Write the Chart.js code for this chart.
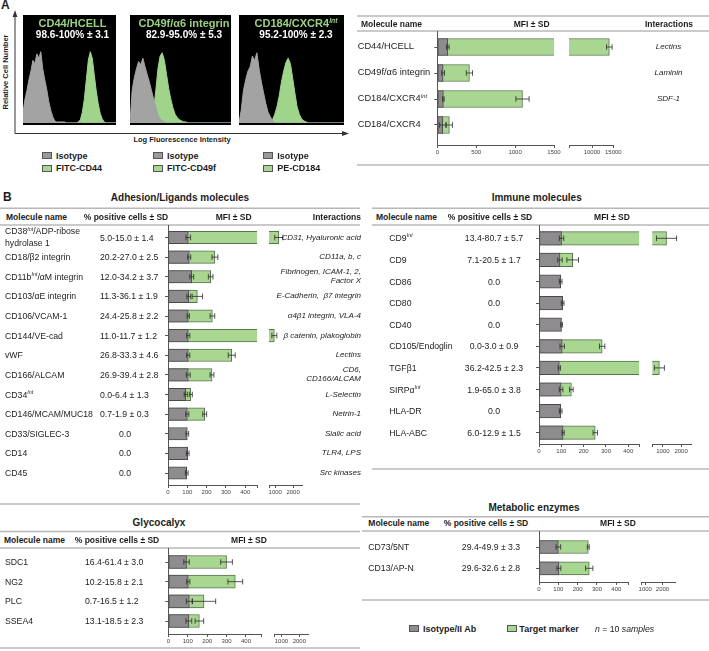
<!DOCTYPE html>
<html>
<head>
<meta charset="utf-8">
<title>MSC surface markers</title>
<script src="https://cdn.jsdelivr.net/npm/chart.js@4.4.1/dist/chart.umd.min.js"></script>
<style>
    body { margin: 0; background: #fff; }
    #fig { position: relative; width: 709px; height: 651px; overflow: hidden;
           font-family: "Liberation Sans", Arial, sans-serif; color: #1c1c1c; }
    #fig canvas, #fig svg { position: absolute; left: 0; top: 0; }
    .t { position: absolute; white-space: nowrap; line-height: 1.15; z-index: 3; }
    .t sup { font-size: 0.62em; font-style: italic; vertical-align: 0.6em; line-height: 0; }
    .panel { font-weight: bold; font-size: 12px; }
    .title { font-weight: bold; font-size: 10px; }
    .head { font-weight: bold; font-size: 8.5px; }
    .row { font-size: 8.7px; line-height: 1.45; }
    .rowA { font-size: 9.3px; }
    .inter { font-style: italic; font-size: 8px; line-height: 1.1; }
    .histTitle { font-weight: bold; font-size: 11px; color: #9ad082; }
    .histSub { font-weight: bold; font-size: 10px; color: #fff; }
    .axisTitle { font-weight: bold; font-size: 7.5px; }
    .legend { font-weight: bold; font-size: 9px; }
    .swatch { position: absolute; border: 1px solid #555; box-sizing: border-box; z-index: 3; }
</style>
</head>
<body>
<div id="fig"></div>
<script>
// ---- Panel A: histograms (relative cell number per log-intensity bin)
const histIsoCD44 = [10, 22, 30, 40, 48, 58, 55, 64, 60, 66, 50, 40, 31, 20, 12, 6, 2, 1, 1, 1,
                     1, 1, 0, 0, 0, 0, 0, 0, 0, 1, 0, 0, 0, 0, 0, 0, 0, 0, 0, 0, 0, 0, 0, 0, 0, 0, 0, 0];
const histCD44 = [0, 0, 0, 0, 0, 0, 0, 0, 0, 0, 0, 0, 0, 0, 0, 0, 0, 0, 0, 0,
                  0, 0, 0, 0, 0, 0, 0, 0, 1, 3, 10, 22, 40, 58, 66, 60, 45, 30, 18, 9, 4, 1, 0, 0, 0, 0, 0, 0];
const histIsoCD49f = [0, 30, 42, 50, 57, 54, 60, 52, 45, 38, 30, 22, 15, 8, 4, 2, 1, 0, 0, 0,
                      0, 0, 0, 0, 0, 0, 0, 0, 0, 0, 0, 0, 0, 0, 0, 0, 0, 0, 0, 0, 0, 0, 0, 0, 0, 0, 0, 0];
const histCD49f = [0, 0, 0, 0, 0, 0, 0, 0, 0, 0, 5, 12, 30, 50, 62, 65, 58, 45, 32, 22,
                   14, 8, 5, 3, 2, 1, 1, 0, 0, 0, 0, 0, 0, 0, 0, 0, 0, 0, 0, 0, 0, 0, 0, 0, 0, 0, 0, 0];
const histIsoCD184 = [0, 12, 30, 40, 48, 52, 62, 58, 65, 50, 38, 28, 18, 10, 6, 2, 0, 0, 0, 0,
                      0, 0, 0, 0, 0, 0, 0, 0, 0, 0, 0, 0, 0, 0, 0, 0, 0, 0, 0, 0, 0, 0, 0, 0, 0, 0, 0, 0];
const histCD184 = [0, 0, 0, 0, 0, 0, 0, 0, 0, 0, 0, 0, 0, 0, 0, 3, 8, 15, 25, 38,
                   48, 56, 60, 55, 42, 28, 15, 8, 4, 2, 1, 0, 0, 0, 0, 0, 0, 0, 0, 0, 0, 0, 0, 0, 0, 0, 0, 0];
const histBins = histCD44.map((_, i) => i);
const histTitles = ['CD44/HCELL', 'CD49f/α6 integrin', 'CD184/CXCR4<sup>Int</sup>'];
const histPositive = ['98.6-100% ± 3.1', '82.9-95.0% ± 5.3', '95.2-100% ± 2.3'];
const histMarkers = ['FITC-CD44', 'FITC-CD49f', 'PE-CD184'];

// ---- Panel A: MFI table
const aMolecules = ['CD44/HCELL', 'CD49f/α6 integrin', 'CD184/CXCR4<sup>Int</sup>', 'CD184/CXCR4'];
const aInteractions = ['Lectins', 'Laminin', 'SDF-1', ''];
const aIsotype = [135, 75, 78, 70];
const aIsotypeSd = [17, 18, 10, 40];
const aTarget = [14070, 413, 1095, 155];
const aTargetSd = [650, 40, 85, 40];
const aTicks = [0, 500, 1000, 1500];
const aBreakTicks = [10000, 15000];

// ---- Panel B: shared MFI ticks
const mfiTicks = [0, 100, 200, 300, 400];
const mfiBreakTicks = [1000, 2000];

// Adhesion / ligands
const adhMolecules = ['CD38<sup>Int</sup>/ADP-ribose<br>hydrolase 1', 'CD18/β2 integrin', 'CD11b<sup>Int</sup>/αM integrin',
    'CD103/αE integrin', 'CD106/VCAM-1', 'CD144/VE-cad', 'vWF', 'CD166/ALCAM', 'CD34<sup>Int</sup>',
    'CD146/MCAM/MUC18', 'CD33/SIGLEC-3', 'CD14', 'CD45'];
const adhPositive = ['5.0-15.0 ± 1.4', '20.2-27.0 ± 2.5', '12.0-34.2 ± 3.7', '11.3-36.1 ± 1.9', '24.4-25.8 ± 2.2',
    '11.0-11.7 ± 1.2', '26.8-33.3 ± 4.6', '26.9-39.4 ± 2.8', '0.0-6.4 ± 1.3', '0.7-1.9 ± 0.3', '0.0', '0.0', '0.0'];
const adhInteractions = ['CD31, Hyaluronic acid', 'CD11a, b, c', 'Fibrinogen, ICAM-1, 2,<br>Factor X',
    'E-Cadherin,&nbsp; β7 integrin', 'α4β1 integrin, VLA-4', 'β catenin, plakoglobin', 'Lectins',
    'CD6,<br>CD166/ALCAM', 'L-Selectin', 'Netrin-1', 'Sialic acid', 'TLR4, LPS', 'Src kinases'];
const adhIsotype = [105, 110, 123, 108, 105, 105, 105, 105, 92, 100, 100, 102, 97];
const adhIsotypeSd = [12, 8, 10, 10, 6, 8, 8, 10, 8, 8, 7, 7, 7];
const adhTarget = [1200, 243, 221, 152, 230, 950, 330, 228, 118, 190, null, null, null];
const adhTargetSd = [230, 15, 12, 27, 12, 140, 18, 10, 8, 10, null, null, null];

// Glycocalyx
const glyMolecules = ['SDC1', 'NG2', 'PLC', 'SSEA4'];
const glyPositive = ['16.4-61.4 ± 3.0', '10.2-15.8 ± 2.1', '0.7-16.5 ± 1.2', '13.1-18.5 ± 2.3'];
const glyIsotype = [94, 103, 108, 106];
const glyIsotypeSd = [14, 8, 15, 15];
const glyTarget = [300, 345, 184, 160];
const glyTargetSd = [30, 38, 60, 22];

// Immune molecules
const immMolecules = ['CD9<sup>Int</sup>', 'CD9', 'CD86', 'CD80', 'CD40', 'CD105/Endoglin', 'TGFβ1',
    'SIRPα<sup>Int</sup>', 'HLA-DR', 'HLA-ABC'];
const immPositive = ['13.4-80.7 ± 5.7', '7.1-20.5 ± 1.7', '0.0', '0.0', '0.0', '0.0-3.0 ± 0.9',
    '36.2-42.5 ± 2.3', '1.9-65.0 ± 3.8', '0.0', '6.0-12.9 ± 1.5'];
const immIsotype = [101, 94, 97, 106, 101, 104, 91, 99, 97, 108];
const immIsotypeSd = [10, 10, 6, 6, 4, 10, 5, 8, 6, 5];
const immTarget = [1200, 151, null, null, null, 283, 808, 145, null, 252];
const immTargetSd = [550, 26, null, null, null, 12, 275, 8, null, 10];

// Metabolic enzymes
const metMolecules = ['CD73/5NT', 'CD13/AP-N'];
const metPositive = ['29.4-49.9 ± 3.3', '29.6-32.6 ± 2.8'];
const metIsotype = [100, 103];
const metIsotypeSd = [12, 10];
const metTarget = [255, 260];
const metTargetSd = [5, 19];

// ---- styles
const GRAY = '#8e8c8e', GRAY_EDGE = '#4a4a4a';
const GREEN = '#a9d791', GREEN_EDGE = '#58734f';
const AXIS = '#555';
const RULE = '#b8b8b8';

Chart.defaults.font.family = '"Liberation Sans", Arial, sans-serif';
Chart.defaults.animation = false;
Chart.defaults.events = [];
Chart.defaults.plugins.legend.display = false;
Chart.defaults.plugins.tooltip.enabled = false;

const fig = document.getElementById('fig');

function label(x, y, html, cls, align) {
    const d = document.createElement('div');
    d.className = 't ' + cls;
    d.innerHTML = html;
    d.style.left = x + 'px';
    d.style.top = y + 'px';
    const tx = align === 'c' ? '-50%' : align === 'r' ? '-100%' : '0';
    d.style.transform = 'translate(' + tx + ', -50%)';
    if (align === 'c') d.style.textAlign = 'center';
    if (align === 'r') d.style.textAlign = 'right';
    fig.appendChild(d);
}

function swatch(x, y, color) {
    const s = document.createElement('div');
    s.className = 'swatch';
    s.style.cssText = 'left:' + x + 'px;top:' + y + 'px;width:10px;height:7px;background:' + color;
    fig.appendChild(s);
}

function addCanvas(x, y, w, h) {
    const c = document.createElement('canvas');
    c.width = w;
    c.height = h;
    c.style.left = x + 'px';
    c.style.top = y + 'px';
    c.style.width = w + 'px';
    c.style.height = h + 'px';
    fig.appendChild(c);
    return c;
}

// horizontal error bars drawn with the chart's own scales
const errorBars = {
    id: 'errorBars',
    afterDatasetsDraw(chart) {
        const { ctx, scales: { x, y } } = chart;
        ctx.save();
        ctx.strokeStyle = '#2b2b2b';
        ctx.lineWidth = 0.8;
        chart.data.datasets.forEach(ds => {
            ds.data.forEach((pt, i) => {
                const sd = ds.sd[i];
                if (pt.x == null || !sd || pt.x < x.min || pt.x > x.max) return;
                const py = y.getPixelForValue(pt.y);
                const lo = Math.max(pt.x - sd, x.min);
                const xa = x.getPixelForValue(lo);
                const xb = x.getPixelForValue(pt.x + sd);
                ctx.beginPath();
                ctx.moveTo(xa, py);
                ctx.lineTo(xb, py);
                if (lo > x.min) {
                    ctx.moveTo(xa, py - 2.8);
                    ctx.lineTo(xa, py + 2.8);
                }
                ctx.moveTo(xb, py - 2.8);
                ctx.lineTo(xb, py + 2.8);
                ctx.stroke();
            });
        });
        ctx.restore();
    }
};

// one segment of a broken MFI axis
function mfiSegment(g, seg, iso, isoSd, tgt, tgtSd, tickVals, tickLabels, showY) {
    const n = iso.length;
    const left = Math.floor(seg.x0) - 10;
    const right = Math.ceil(seg.x1) + 10;
    const top = Math.floor(g.yT) - 4;
    const bottom = Math.ceil(g.yA) + 16;
    const canvas = addCanvas(left, top, right - left, bottom - top);
    const pitch = (g.yL - g.yF) / (n - 1);
    const barOpts = { borderWidth: 1, borderSkipped: false, barThickness: g.bar, grouped: false, clip: 0 };
    new Chart(canvas, {
        type: 'bar',
        data: {
            datasets: [
                Object.assign({ data: iso.map((v, i) => ({ x: v, y: i })), sd: isoSd,
                    backgroundColor: GRAY, borderColor: GRAY_EDGE }, barOpts),
                Object.assign({ data: tgt.map((v, i) => ({ x: v, y: i })), sd: tgtSd,
                    backgroundColor: GREEN, borderColor: GREEN_EDGE }, barOpts)
            ]
        },
        options: {
            indexAxis: 'y',
            responsive: false,
            layout: {
                padding: {
                    left: seg.x0 - left - (showY ? 4 : 0),
                    right: right - seg.x1,
                    top: g.yT - top,
                    bottom: bottom - g.yA - 14
                }
            },
            scales: {
                x: {
                    type: 'linear',
                    min: seg.min,
                    max: seg.max,
                    border: { color: AXIS, width: 1 },
                    grid: { drawOnChartArea: false, tickLength: 3, color: AXIS },
                    ticks: {
                        font: { size: 6 }, color: '#444', padding: 1, maxRotation: 0, autoSkip: false,
                        callback: v => tickLabels.includes(v) ? String(v) : ''
                    },
                    afterBuildTicks: s => { s.ticks = tickVals.map(v => ({ value: v })); },
                    afterFit: s => { s.height = 14; }
                },
                y: {
                    type: 'linear',
                    reverse: true,
                    offset: false,
                    display: showY,
                    min: -(g.yF - g.yT) / pitch,
                    max: (n - 1) + (g.yA - g.yL) / pitch,
                    border: { color: AXIS, width: 1 },
                    grid: { drawOnChartArea: false, tickLength: 3, color: AXIS, offset: false },
                    ticks: { display: false },
                    afterBuildTicks: s => { s.ticks = iso.map((_, i) => ({ value: i })); },
                    afterFit: s => { s.width = 4; }
                }
            }
        },
        plugins: [errorBars]
    });
}

function histogram(x0, x1, y0, y1, iso, tgt) {
    const canvas = addCanvas(Math.round(x0), Math.round(y0), Math.round(x1 - x0), Math.round(y1 - y0));
    canvas.style.background = '#000';
    new Chart(canvas, {
        type: 'line',
        data: {
            labels: histBins,
            datasets: [
                { data: iso, backgroundColor: '#a3a3a3', borderColor: '#a3a3a3' },
                { data: tgt, backgroundColor: '#9fd48a', borderColor: '#9fd48a' }
            ]
        },
        options: {
            responsive: false,
            layout: { padding: { bottom: 2 } },
            elements: { point: { radius: 0 }, line: { borderWidth: 1, fill: 'origin', tension: 0 } },
            scales: {
                x: { display: false },
                y: { display: false, min: 0, max: 100 }
            }
        }
    });
}

function rowY(g, n, i) {
    return g.yF + i * (g.yL - g.yF) / (n - 1);
}

// ---- rules and axis arrows
const rules = [
    [357, 709, 16], [357, 709, 31], [357, 709, 165],
    [0, 360, 208.3], [0, 360, 225], [0, 360, 504],
    [0, 360, 531.5], [0, 360, 548], [0, 360, 648],
    [372, 709, 208.3], [372, 709, 225], [372, 709, 469],
    [362, 709, 516.7], [362, 709, 531], [362, 709, 600]
];
let svg = '<svg width="709" height="651" xmlns="http://www.w3.org/2000/svg">';
rules.forEach(r => {
    svg += '<line x1="' + r[0] + '" x2="' + r[1] + '" y1="' + r[2] + '" y2="' + r[2] +
        '" stroke="' + RULE + '" stroke-width="1.4"/>';
});
svg += '<line x1="15" x2="15" y1="16" y2="133.5" stroke="#333" stroke-width="1"/>';
svg += '<line x1="15" x2="343" y1="133.5" y2="133.5" stroke="#333" stroke-width="1"/>';
svg += '<polygon points="15,10 12.6,17 17.4,17" fill="#333"/>';
svg += '<polygon points="349,133.5 342,131.1 342,135.9" fill="#333"/>';
svg += '</svg>';
fig.insertAdjacentHTML('beforeend', svg);

// ---- Panel A
label(1, 6, 'A', 'panel', 'l');
label(6, 72, 'Relative Cell Number', 'axisTitle', 'c');
fig.lastChild.style.transform = 'translate(-50%, -50%) rotate(-90deg)';
label(182, 140, 'Log Fluorescence Intensity', 'axisTitle', 'c');

const boxes = [[22.7, 116], [129.5, 230], [238.5, 343]];
const titleX = [72.5, 184, 296];
const histData = [[histIsoCD44, histCD44], [histIsoCD49f, histCD49f], [histIsoCD184, histCD184]];
boxes.forEach((b, k) => {
    histogram(b[0], b[1], 15, 125, histData[k][0], histData[k][1]);
    label(titleX[k], 23.3, histTitles[k], 'histTitle', 'c');
    label(titleX[k], 35, histPositive[k], 'histSub', 'c');
});
const legendX = [42, 153, 263.3];
legendX.forEach((x, k) => {
    swatch(x, 152, '#9a9a9a');
    label(x + 14, 155.5, 'Isotype', 'legend', 'l');
    swatch(x, 164.5, GREEN);
    label(x + 14, 168, histMarkers[k], 'legend', 'l');
});

const gA = { yT: 31, yF: 47, yL: 125, yA: 145, bar: 17 };
label(361, 24.5, 'Molecule name', 'head', 'l');
label(531.7, 24.5, 'MFI ± SD', 'head', 'c');
label(669, 24.5, 'Interactions', 'head', 'c');
aMolecules.forEach((m, i) => {
    const y = rowY(gA, aMolecules.length, i);
    label(357.7, y, m, 'row rowA', 'l');
    label(668.5, y, aInteractions[i], 'inter rowA', 'c');
});
mfiSegment(gA, { x0: 437.3, x1: 554, min: 0, max: 1500 }, aIsotype, aIsotypeSd, aTarget, aTargetSd,
    aTicks, aTicks, true);
mfiSegment(gA, { x0: 565, x1: 613.3, min: 4600, max: 15000 }, aIsotype, aIsotypeSd, aTarget, aTargetSd,
    [4600, ...aBreakTicks], aBreakTicks, false);

// ---- Panel B: adhesion / ligands
label(3, 198, 'B', 'panel', 'l');
label(180, 198, 'Adhesion/Ligands molecules', 'title', 'c');
label(6, 217.7, 'Molecule name', 'head', 'l');
label(126, 217.7, '% positive cells ± SD', 'head', 'c');
label(233.7, 217.7, 'MFI ± SD', 'head', 'c');
label(361, 217.7, 'Interactions', 'head', 'r');
const gAdh = { yT: 225, yF: 237.5, yL: 473, yA: 485, bar: 12.5 };
adhMolecules.forEach((m, i) => {
    const y = rowY(gAdh, adhMolecules.length, i);
    label(5, y, m, 'row', 'l');
    if (adhPositive[i] === '0.0') label(125, y, adhPositive[i], 'row', 'c');
    else label(100, y, adhPositive[i], 'row', 'l');
    label(361, y, adhInteractions[i], 'inter', 'r');
});
mfiSegment(gAdh, { x0: 168, x1: 257, min: 0, max: 461 }, adhIsotype, adhIsotypeSd, adhTarget, adhTargetSd,
    [...mfiTicks, 461], mfiTicks, true);
mfiSegment(gAdh, { x0: 265, x1: 302, min: 650, max: 2500 }, adhIsotype, adhIsotypeSd, adhTarget, adhTargetSd,
    [650, ...mfiBreakTicks], mfiBreakTicks, false);

// ---- Glycocalyx
label(159, 523.3, 'Glycocalyx', 'title', 'c');
label(4, 541, 'Molecule name', 'head', 'l');
label(117, 541, '% positive cells ± SD', 'head', 'c');
label(249, 541, 'MFI ± SD', 'head', 'c');
const gGly = { yT: 548, yF: 562, yL: 621, yA: 634, bar: 13 };
glyMolecules.forEach((m, i) => {
    const y = rowY(gGly, glyMolecules.length, i);
    label(5, y, m, 'row', 'l');
    label(85, y, glyPositive[i], 'row', 'l');
});
mfiSegment(gGly, { x0: 168.3, x1: 261.7, min: 0, max: 481 }, glyIsotype, glyIsotypeSd, glyTarget, glyTargetSd,
    [...mfiTicks, 481], mfiTicks, true);
mfiSegment(gGly, { x0: 270, x1: 308.3, min: 583, max: 2500 }, glyIsotype, glyIsotypeSd, glyTarget, glyTargetSd,
    [583, ...mfiBreakTicks], mfiBreakTicks, false);

// ---- Immune molecules
label(536.7, 198.3, 'Immune molecules', 'title', 'c');
label(376, 217.7, 'Molecule name', 'head', 'l');
label(490, 217.7, '% positive cells ± SD', 'head', 'c');
label(612, 217.7, 'MFI ± SD', 'head', 'c');
const gImm = { yT: 225, yF: 238.3, yL: 432.7, yA: 444, bar: 13.5 };
immMolecules.forEach((m, i) => {
    const y = rowY(gImm, immMolecules.length, i);
    label(389.3, y, m, 'row', 'l');
    label(494, y, immPositive[i], 'row', 'c');
});
mfiSegment(gImm, { x0: 539, x1: 639, min: 0, max: 448 }, immIsotype, immIsotypeSd, immTarget, immTargetSd,
    [...mfiTicks, 448], mfiTicks, true);
mfiSegment(gImm, { x0: 648.3, x1: 691.7, min: 420, max: 2580 }, immIsotype, immIsotypeSd, immTarget, immTargetSd,
    [420, ...mfiBreakTicks], mfiBreakTicks, false);

// ---- Metabolic enzymes
label(534, 507.7, 'Metabolic enzymes', 'title', 'c');
label(368.3, 524.3, 'Molecule name', 'head', 'l');
label(486, 524.3, '% positive cells ± SD', 'head', 'c');
label(618, 524.3, 'MFI ± SD', 'head', 'c');
const gMet = { yT: 531, yF: 547, yL: 568.3, yA: 582, bar: 13 };
metMolecules.forEach((m, i) => {
    const y = rowY(gMet, metMolecules.length, i);
    label(368.3, y, m, 'row', 'l');
    label(491, y, metPositive[i], 'row', 'c');
});
mfiSegment(gMet, { x0: 539, x1: 628.3, min: 0, max: 462 }, metIsotype, metIsotypeSd, metTarget, metTargetSd,
    [...mfiTicks, 462], mfiTicks, true);
mfiSegment(gMet, { x0: 637.3, x1: 675, min: 772, max: 2724 }, metIsotype, metIsotypeSd, metTarget, metTargetSd,
    [772, ...mfiBreakTicks], mfiBreakTicks, false);

// ---- legend
swatch(409.3, 625, GRAY);
label(423, 628.5, 'Isotype/II Ab', 'legend', 'l');
swatch(506.7, 625, GREEN);
label(519.3, 628.5, 'Target marker', 'legend', 'l');
label(595, 628.5, '<i>n</i> = 10 <i>samples</i>', 'row', 'l');
</script>
</body>
</html>
